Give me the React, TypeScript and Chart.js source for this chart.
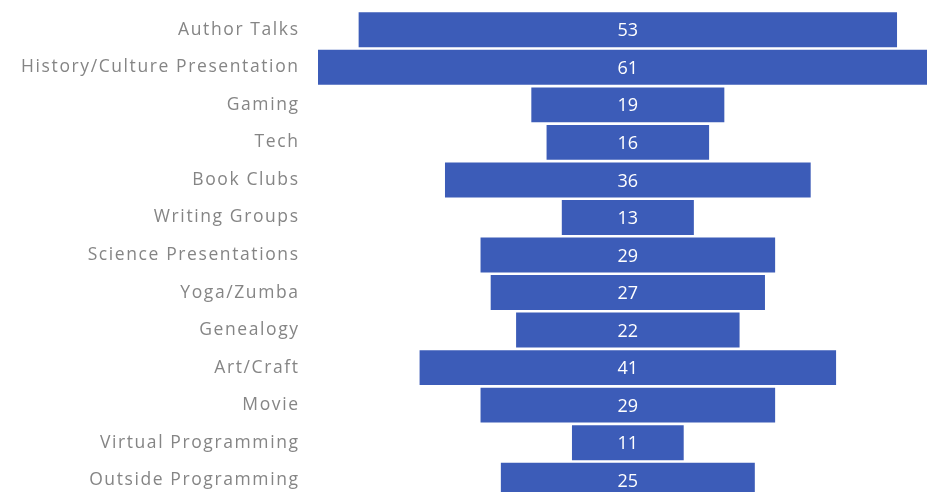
import React, { useEffect, useRef } from "react";
import { Chart, registerables } from "chart.js";

Chart.register(...registerables);

const categories = [
  "Author Talks",
  "History/Culture Presentation",
  "Gaming",
  "Tech",
  "Book Clubs",
  "Writing Groups",
  "Science Presentations",
  "Yoga/Zumba",
  "Genealogy",
  "Art/Craft",
  "Movie",
  "Virtual Programming",
  "Outside Programming",
];
const values = [53, 61, 19, 16, 36, 13, 29, 27, 22, 41, 29, 11, 25];

const FONT = "'Open Sans', sans-serif";

const spacing = {
  id: "spacing",
  beforeDraw(chart: any) {
    chart.ctx.letterSpacing = "1.6px";
  },
};

const valueLabels = {
  id: "valueLabels",
  afterDatasetsDraw(chart: any) {
    const ctx = chart.ctx;
    const meta = chart.getDatasetMeta(0);
    const xs = chart.scales.x;
    ctx.save();
    ctx.letterSpacing = "0px";
    ctx.fillStyle = "#ffffff";
    ctx.font = `18px ${FONT}`;
    ctx.textAlign = "center";
    ctx.textBaseline = "middle";
    meta.data.forEach((bar: any, i: number) => {
      ctx.fillText(String(values[i]), xs.getPixelForValue(0), bar.y + 1.5);
    });
    ctx.restore();
  },
};

export default function App() {
  const ref = useRef<HTMLCanvasElement>(null);
  useEffect(() => {
    if (!ref.current) return;
    const chart = new Chart(ref.current, {
      type: "bar",
      data: {
        labels: categories,
        datasets: [
          {
            data: values.map((v) => [-v / 2, v / 2]) as any,
            backgroundColor: "#3c5cb8",
            barPercentage: 0.93,
            categoryPercentage: 1,
          },
        ],
      },
      options: {
        indexAxis: "y",
        animation: false,
        responsive: true,
        maintainAspectRatio: false,
        layout: { padding: { top: 11, bottom: 1, left: 0, right: 0 } },
        plugins: { legend: { display: false }, tooltip: { enabled: false } },
        scales: {
          x: {
            display: false,
            min: -30.5,
            max: 29.45,
          },
          y: {
            grid: { display: false, drawTicks: false },
            border: { display: false },
            ticks: {
              padding: 18.4,
              color: "#858585",
              font: { family: FONT, size: 17.5 },
            },
            afterFit(scale: any) {
              scale.width = 318;
              scale.paddingTop = 0;
              scale.paddingBottom = 0;
            },
          },
        },
      },
      plugins: [spacing, valueLabels],
    });
    return () => chart.destroy();
  }, []);
  return (
    <div
      style={{
        position: "fixed",
        left: 0,
        top: 0,
        width: 927,
        height: 492,
        overflow: "hidden",
        background: "#fff",
      }}
    >
      <div style={{ position: "relative", width: 927, height: 500 }}>
        <canvas ref={ref} />
      </div>
    </div>
  );
}
